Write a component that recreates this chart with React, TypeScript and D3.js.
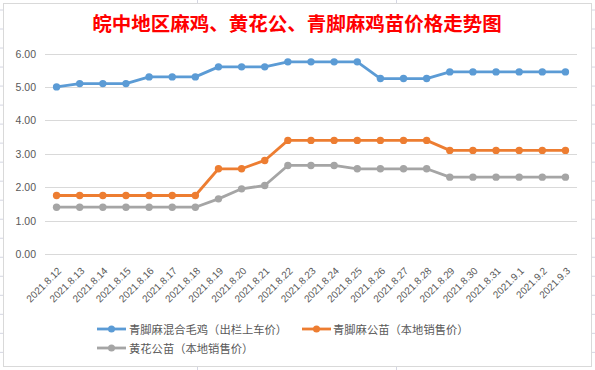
import React from "react";
import * as d3 from "d3";

const categories = [
  "2021.8.12", "2021.8.13", "2021.8.14", "2021.8.15", "2021.8.16", "2021.8.17",
  "2021.8.18", "2021.8.19", "2021.8.20", "2021.8.21", "2021.8.22", "2021.8.23",
  "2021.8.24", "2021.8.25", "2021.8.26", "2021.8.27", "2021.8.28", "2021.8.29",
  "2021.8.30", "2021.8.31", "2021.9.1", "2021.9.2", "2021.9.3",
];

const mixedChicken = [
  5.0, 5.1, 5.1, 5.1, 5.3, 5.3, 5.3, 5.6, 5.6, 5.6, 5.75, 5.75,
  5.75, 5.75, 5.25, 5.25, 5.25, 5.45, 5.45, 5.45, 5.45, 5.45, 5.45,
];
const qingjiaoRooster = [
  1.75, 1.75, 1.75, 1.75, 1.75, 1.75, 1.75, 2.55, 2.55, 2.8, 3.4, 3.4,
  3.4, 3.4, 3.4, 3.4, 3.4, 3.1, 3.1, 3.1, 3.1, 3.1, 3.1,
];
const huanghuaRooster = [
  1.4, 1.4, 1.4, 1.4, 1.4, 1.4, 1.4, 1.65, 1.95, 2.05, 2.65, 2.65,
  2.65, 2.55, 2.55, 2.55, 2.55, 2.3, 2.3, 2.3, 2.3, 2.3, 2.3,
];

const seriesNames = [
  "青脚麻混合毛鸡（出栏上车价）",
  "青脚麻公苗（本地销售价）",
  "黄花公苗（本地销售价）",
];
const yTicks = [0, 1, 2, 3, 4, 5, 6];
const title = "皖中地区麻鸡、黄花公、青脚麻鸡苗价格走势图";

const colors = ["#5B9BD5", "#ED7D31", "#A5A5A5"];
const seriesData = [mixedChicken, qingjiaoRooster, huanghuaRooster];

const W = 595;
const H = 370;
const cjk = "'Noto Sans CJK SC', 'Noto Sans', sans-serif";
const latin = "'Liberation Sans', Arial, sans-serif";

export default function App() {
  const x = d3.scaleBand<string>().domain(categories).range([45, 577]);
  const y = d3.scaleLinear().domain([0, 6]).range([254, 53.5]);
  const cx = (c: string) => (x(c) as number) + x.bandwidth() / 2;

  const line = d3
    .line<number>()
    .x((_, i) => cx(categories[i]))
    .y((v) => y(v));

  // excel sheet gridline stubs around the chart
  const rowYs = d3.range(0, 19).map((k) => 10 + k * 19.02);
  const colXs = [197, 396];

  const legendItems = [
    { i: 0, sx: 97, tx: 129, ty: 329 },
    { i: 1, sx: 302, tx: 333, ty: 329 },
    { i: 2, sx: 97, tx: 129, ty: 348 },
  ];

  return (
    <div style={{ position: "fixed", left: 0, top: 0, width: W, height: H, background: "#fff" }}>
      <svg width={W} height={H} style={{ display: "block" }}>
        <rect x={0} y={0} width={W} height={H} fill="#fff" />
        {rowYs.map((ry, k) => (
          <g key={"r" + k}>
            <line x1={0} x2={3} y1={ry} y2={ry} stroke="#d4d6e2" strokeWidth={1} />
            <line x1={592} x2={595} y1={ry} y2={ry} stroke="#d4d6e2" strokeWidth={1} />
          </g>
        ))}
        {colXs.map((c, k) => (
          <g key={"c" + k}>
            <line x1={c + 0.5} x2={c + 0.5} y1={0} y2={3} stroke="#d4d6e2" />
            <line x1={c + 0.5} x2={c + 0.5} y1={367} y2={370} stroke="#d4d6e2" />
          </g>
        ))}
        <rect x={3.5} y={3.5} width={588} height={363} fill="#fff" stroke="#d9d9d9" strokeWidth={1} />

        <text
          x={297}
          y={22}
          textAnchor="middle"
          dominantBaseline="central"
          fill="#ff0000"
          fontFamily={cjk}
          fontWeight={700}
          fontSize={19.5}
        >
          {title}
        </text>

        {yTicks.map((t) => (
          <g key={"y" + t}>
            <line
              x1={45}
              x2={577}
              y1={Math.round(y(t)) + 0.5}
              y2={Math.round(y(t)) + 0.5}
              stroke="#d9d9d9"
              strokeWidth={1}
            />
            <text
              x={36}
              y={y(t)}
              textAnchor="end"
              dominantBaseline="central"
              fill="#595959"
              fontFamily={latin}
              fontSize={10.5}
            >
              {t.toFixed(2)}
            </text>
          </g>
        ))}

        {categories.map((c) => (
          <text
            key={c}
            transform={`translate(${cx(c) + 3},${269}) rotate(-45)`}
            textAnchor="end"
            dominantBaseline="central"
            fill="#595959"
            fontFamily={latin}
            fontSize={10}
          >
            {c}
          </text>
        ))}

        {seriesData.map((vals, si) => (
          <g key={"s" + si}>
            <path
              d={line(vals) || ""}
              fill="none"
              stroke={colors[si]}
              strokeWidth={2.8}
              strokeLinejoin="round"
              strokeLinecap="round"
            />
            {vals.map((v, i) => (
              <circle key={i} cx={cx(categories[i])} cy={y(v)} r={3.7} fill={colors[si]} />
            ))}
          </g>
        ))}

        {legendItems.map(({ i, sx, tx, ty }) => (
          <g key={"l" + i}>
            <line x1={sx} x2={sx + 29} y1={ty} y2={ty} stroke={colors[i]} strokeWidth={2.8} />
            <circle cx={sx + 14.5} cy={ty} r={3.5} fill={colors[i]} />
            <text
              x={tx}
              y={ty}
              dominantBaseline="central"
              fill="#595959"
              fontFamily={cjk}
              fontSize={11.3}
            >
              {seriesNames[i]}
            </text>
          </g>
        ))}
      </svg>
    </div>
  );
}
